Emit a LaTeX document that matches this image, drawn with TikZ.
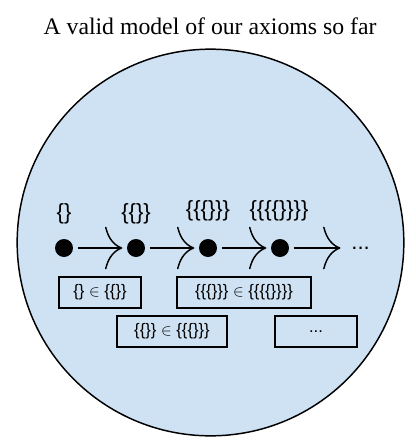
\documentclass[tikz,border=0pt]{standalone}
\usepackage{fontspec}
\setmainfont{Liberation Serif}
\newfontfamily\arialfont{Liberation Sans}
\usetikzlibrary{arrows.meta}
\definecolor{bgblue}{HTML}{CFE2F3}

\begin{document}
\begin{tikzpicture}[x=0.75pt,y=-0.75pt,
  dot/.style={circle,fill=black,inner sep=0pt,minimum size=13.5pt,outer sep=3.5pt},
  setlabel/.style={font=\arialfont\fontsize{16.5}{19}\selectfont},
  memberbox/.style={draw,line width=0.8pt,fill=bgblue,inner sep=0pt,minimum height=23.25pt,font=\arialfont\fontsize{12.5}{15}\selectfont},
  succ/.style={line width=1.1pt,-{Computer Modern Rightarrow[length=13pt,width=32pt,line width=1.1pt]}}]
  \useasboundingbox (0,0) rectangle (415,446);
  \node[font=\fontsize{17.8}{21}\selectfont] (title) at (210,26) {A valid model of our axioms so far};
  \draw[line width=1.1pt,fill=bgblue] (210.5,242.5) circle (145pt);
  % the chain of sets
  \node[dot] (d0) at (64,248) {};
  \node[dot] (d1) at (136,248) {};
  \node[dot] (d2) at (208,248) {};
  \node[dot] (d3) at (280,248) {};
  \node[setlabel,anchor=east,inner sep=0pt] (more) at (370,248) {...};
  \node[setlabel] (l0) at (64,214) {\{\}};
  \node[setlabel] (l1) at (136,214) {\{\{\}\}};
  \node[setlabel] (l2) at (208,211) {\{\{\{\}\}\}};
  \node[setlabel] (l3) at (279,211) {\{\{\{\{\}\}\}\}};
  \draw[succ] (d0) -- (d1);
  \draw[succ] (d1) -- (d2);
  \draw[succ] (d2) -- (d3);
  \draw[succ,shorten >=8pt] (d3) -- (more.west);
  % membership boxes
  \node[memberbox,minimum width=61.5pt] (m0) at (100,292.5) {\{\} $\in$ \{\{\}\}};
  \node[memberbox,minimum width=100.5pt] (m2) at (244,292.5) {\{\{\{\}\}\} $\in$ \{\{\{\{\}\}\}\}};
  \node[memberbox,minimum width=82.5pt] (m1) at (172,331.5) {\{\{\}\} $\in$ \{\{\{\}\}\}};
  \node[memberbox,minimum width=61.5pt] (m3) at (316,331.5) {...};
\end{tikzpicture}
\end{document}
